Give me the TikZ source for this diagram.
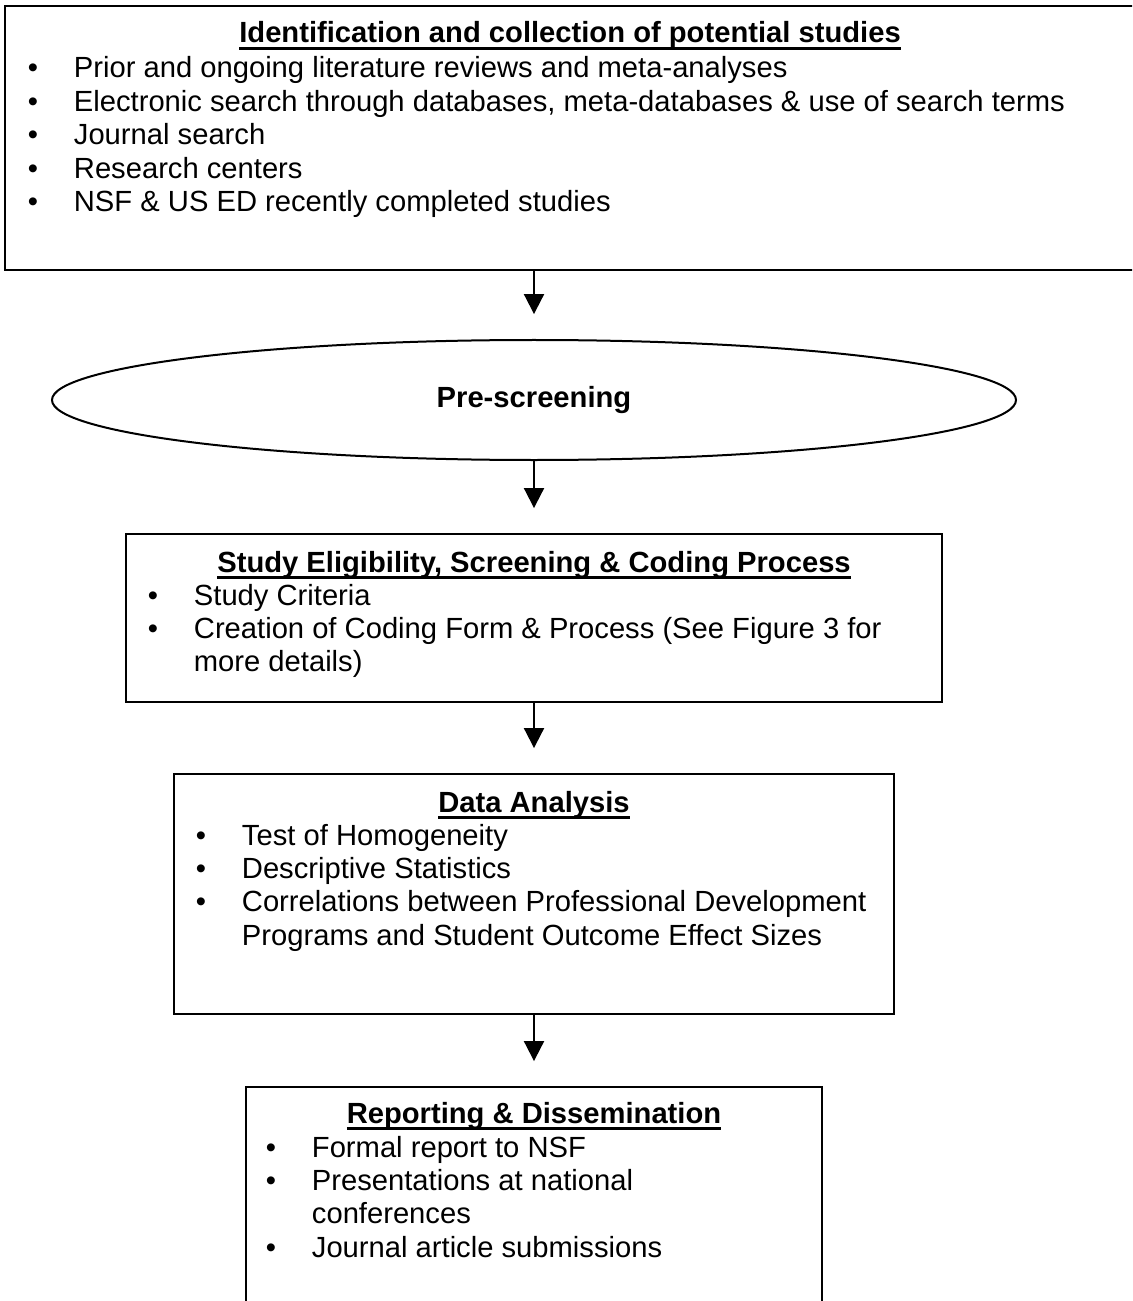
\documentclass[tikz,border=0pt]{standalone}
\usepackage{fontspec}
\setmainfont{Liberation Sans}
\usetikzlibrary{arrows.meta,shapes.geometric,fit}

\newlength{\pxu}
\setlength{\pxu}{0.425pt}
\newcommand{\ulhead}[1]{\setbox0\hbox{\bfseries #1}\rlap{\rule[-3pt]{\wd0}{1.1pt}}\box0}
\newcommand{\bul}{\makebox[0pt]{\textbullet}}

\begin{document}
\begin{tikzpicture}[x=0.425pt, y=-0.425pt, line width=0.85pt,
  box/.style={draw, inner sep=0pt},
  flow/.style={-{Triangle[length=8.5pt,width=8.5pt]}, shorten >=10.6pt},
  head/.style={anchor=base, inner sep=0pt, font=\fontsize{12.4pt}{14.2pt}\selectfont},
  items/.style={anchor=base west, inner sep=0pt, font=\fontsize{12.4pt}{14.2pt}\selectfont}]
\clip (0,0) rectangle (1132,1301);
%\draw[help lines, color=gray!30, dashed] (0,0) grid[step=100] (1132,1301);
% boxes
\node[box, fit={(5,6) (1136,270)}] (ident) {};
\node[draw, ellipse, inner sep=0pt, minimum width=964\pxu, minimum height=120\pxu,
  font=\bfseries\fontsize{12.4pt}{14.2pt}\selectfont] (prescreen) at (534,400) {Pre-screening};
\node[box, fit={(126,534) (942,702)}] (screen) {};
\node[box, fit={(174,774) (894,1014)}] (analysis) {};
\node[box, fit={(246,1087) (822,1330)}] (report) {};
% arrows
\draw[flow] (ident.south -| prescreen.north) -- (prescreen.north);
\draw[flow] (prescreen.south) -- (screen.north);
\draw[flow] (screen.south) -- (analysis.north);
\draw[flow] (analysis.south) -- (report.north);
% texts
\node[head] (identhead) at (570,43) {\ulhead{Identification and collection of potential studies}};
\node[items] (identlist) at (32,78) {\begin{tabular}[t]{@{}p{17.4pt}@{}l@{}}
\bul & Prior and ongoing literature reviews and meta-analyses\\
\bul & Electronic search through databases, meta-databases \& use of search terms\\
\bul & Journal search\\
\bul & Research centers\\
\bul & NSF \& US ED recently completed studies
\end{tabular}};
\node[head] (screenhead) at (534,572) {\ulhead{Study Eligibility, Screening \& Coding Process}};
\node[items] (screenlist) at (152,605) {\begin{tabular}[t]{@{}p{17.4pt}@{}l@{}}
\bul & Study Criteria\\
\bul & Creation of Coding Form \& Process (See Figure 3 for\\
     & more details)
\end{tabular}};
\node[head] (analysishead) at (534,812) {\ulhead{Data Analysis}};
\node[items] (analysislist) at (200,845) {\begin{tabular}[t]{@{}p{17.4pt}@{}l@{}}
\bul & Test of Homogeneity\\
\bul & Descriptive Statistics\\
\bul & Correlations between Professional Development\\
     & Programs and Student Outcome Effect Sizes
\end{tabular}};
\node[head] (reporthead) at (534,1123) {\ulhead{Reporting \& Dissemination}};
\node[items] (reportlist) at (270,1157) {\begin{tabular}[t]{@{}p{17.4pt}@{}l@{}}
\bul & Formal report to NSF\\
\bul & Presentations at national\\
     & conferences\\
\bul & Journal article submissions
\end{tabular}};
\end{tikzpicture}
\end{document}
